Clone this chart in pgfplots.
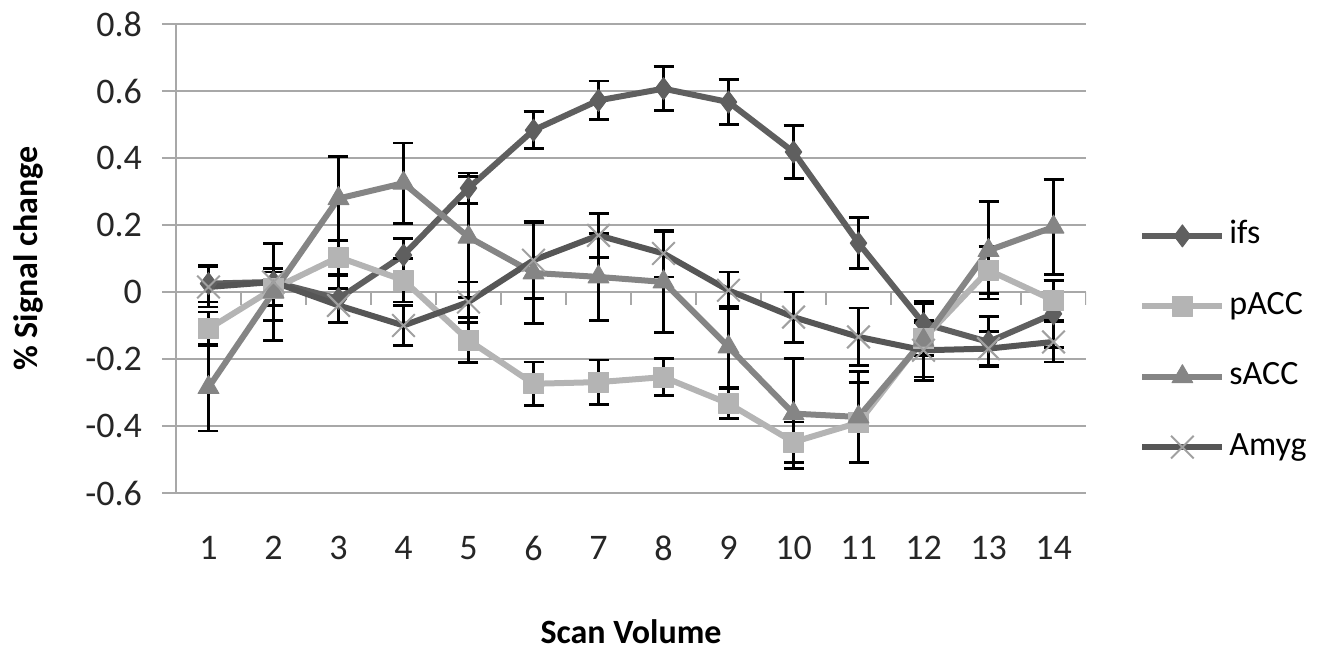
\documentclass[border=0pt]{standalone}
\usepackage{pgfplots}
\usepackage{pgfplotstable}
\pgfplotsset{compat=1.18}
\usepackage{fontspec}
\setmainfont{Carlito}

\pgfplotstableread{
x y e
1 0.025 0.055
2 0.03 0.115
3 -0.02 0.07
4 0.11 0.05
5 0.31 0.045
6 0.483 0.055
7 0.572 0.058
8 0.607 0.065
9 0.567 0.068
10 0.418 0.08
11 0.146 0.076
12 -0.094 0.065
13 -0.149 0.075
14 -0.065 0.10
}\ifsdata

\pgfplotstableread{
x y e
1 -0.11 0.05
2 0.01 0.05
3 0.104 0.05
4 0.035 0.065
5 -0.144 0.067
6 -0.274 0.065
7 -0.269 0.066
8 -0.254 0.055
9 -0.333 0.045
10 -0.448 0.06
11 -0.39 0.12
12 -0.14 0.05
13 0.065 0.07
14 -0.025 0.06
}\paccdata

\pgfplotstableread{
x y e
1 -0.285 0.13
2 0.0 0.145
3 0.279 0.125
4 0.325 0.12
5 0.164 0.18
6 0.057 0.15
7 0.045 0.13
8 0.03 0.15
9 -0.164 0.12
10 -0.363 0.165
11 -0.373 0.135
12 -0.144 0.11
13 0.124 0.145
14 0.194 0.142
}\saccdata

\pgfplotstableread{
x y e
1 0.015 0.06
2 0.03 0.04
3 -0.04 0.05
4 -0.1 0.06
5 -0.03 0.06
6 0.095 0.115
7 0.169 0.065
8 0.115 0.07
9 0.005 0.055
10 -0.075 0.075
11 -0.134 0.086
12 -0.174 0.09
13 -0.169 0.05
14 -0.149 0.06
}\amygdata

\definecolor{cifs}{HTML}{5F5F5F}
\definecolor{cpacc}{HTML}{B4B4B4}
\definecolor{csacc}{HTML}{858585}
\definecolor{camyg}{HTML}{565656}
\definecolor{cx}{HTML}{A0A0A0}
\definecolor{cgrid}{HTML}{A8A8A8}

\begin{document}
\begin{tikzpicture}
\useasboundingbox (-88pt,-79.5pt) rectangle (581.5pt,246.5pt);
\begin{axis}[
  scale only axis, width=455pt, height=234.5pt,
  xmin=0.5, xmax=14.5, ymin=-0.6, ymax=0.8,
  axis lines*=left,
  x axis line style={draw=none},
  y axis line style={cgrid, line width=0.9pt},
  xtick={1,...,14},
  xticklabels={1,2,3,4,5,6,7,8,9,10,11,12,13,14},
  xtick align=inside,
  major x tick style={draw=none},
  ytick={-0.6,-0.4,...,0.8},
  yticklabels={-0.6,-0.4,-0.2,0,0.2,0.4,0.6,0.8},
  ytick align=outside,
  major tick length=7pt,
  y tick style={cgrid, line width=0.9pt},
  ymajorgrids,
  major grid style={cgrid, line width=0.9pt},
  tick label style={font=\fontsize{18}{21.6}\selectfont, text=black!85},
  xticklabel style={anchor=center, yshift=-27.5pt},
  yticklabel style={anchor=east, xshift=-6.5pt},
  every axis x label/.style={at={(rel axis cs:0.5,0)}, yshift=-69.5pt, anchor=center},
  every axis y label/.style={at={(rel axis cs:0,0.5)}, xshift=-74pt, rotate=90, anchor=center},
  xlabel={\fontsize{17}{20}\selectfont\bfseries Scan Volume},
  ylabel={\fontsize{17}{20}\selectfont\bfseries \% Signal change},
  legend style={draw=none, fill=none, inner sep=0pt, at={(rel axis cs:1,0.323)}, anchor=west, xshift=26.5pt,
    font=\fontsize{17}{20}\selectfont, row sep=15.2pt,
    nodes={inner sep=2pt, text height=12pt, text depth=4pt}},
  legend cell align=left,
  legend image code/.code={\draw[mark repeat=2,mark phase=2,#1] plot coordinates {(0pt,0pt) (20pt,0pt) (40pt,0pt)};},
  every axis plot/.append style={line width=3pt, line join=round},
  error bars/y dir=both, error bars/y explicit,
  error bars/error bar style={black, line width=1.4pt, solid},
  error bars/error mark options={black, rotate=90, mark size=5pt, line width=1.4pt},
]
\draw[cgrid, line width=0.9pt] (axis cs:0.5,0) -- (axis cs:14.5,0);
\pgfplotsinvokeforeach{0,...,14}{\draw[cgrid, line width=0.9pt] (axis cs:#1.5,0) -- ++(0pt,-6.5pt);}

\addplot[cifs, mark=diamond*, mark size=5.5pt, mark options={fill=cifs, draw=cifs, line width=0.5pt}]
  table[x=x, y=y, y error=e] {\ifsdata};
\addlegendentry{ifs}
\addplot[cpacc, mark=square*, mark size=5pt, mark options={fill=cpacc, draw=cpacc, line width=0.5pt}]
  table[x=x, y=y, y error=e] {\paccdata};
\addlegendentry{pACC}
\addplot[csacc, mark=triangle*, mark size=6pt, mark options={fill=csacc, draw=csacc, line width=0.5pt}]
  table[x=x, y=y, y error=e] {\saccdata};
\addlegendentry{sACC}
\addplot[camyg, mark=x, mark size=8pt, mark options={draw=cx, line width=1pt}]
  table[x=x, y=y, y error=e] {\amygdata};
\addlegendentry{Amyg}
\end{axis}
\end{tikzpicture}
\end{document}
